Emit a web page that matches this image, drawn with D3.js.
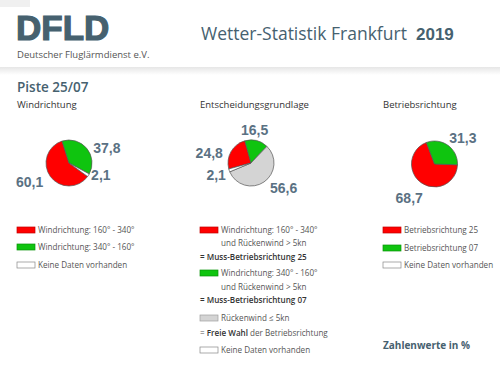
<!DOCTYPE html>
<html>
<head>
<meta charset="utf-8">
<script src="https://cdn.jsdelivr.net/npm/d3@7"></script>
<style>
  body { margin: 0; background: #fff; }
  svg { display: block; font-family: "Open Sans", sans-serif; }
</style>
</head>
<body>
<svg></svg>
<script>
// Размеры
const width = 500;
const height = 370;

// Данные (в процентах)
const windLabels = ["Windrichtung: 160° - 340°", "Windrichtung: 340° - 160°", "Keine Daten vorhanden"];
const windValues = [60.1, 37.8, 2.1];

const decisionLabels = ["Muss-Betriebsrichtung 25", "Muss-Betriebsrichtung 07", "Freie Wahl", "Keine Daten vorhanden"];
const decisionValues = [24.8, 16.5, 56.6, 2.1];

const runwayLabels = ["Betriebsrichtung 25", "Betriebsrichtung 07", "Keine Daten vorhanden"];
const runwayValues = [68.7, 31.3];

const titleText = "Wetter-Statistik Frankfurt";
const yearText = "2019";

// Цвета
const red = "#ff0000";
const green = "#0fc40f";
const grey = "#d4d4d4";
const white = "#ffffff";
const slate = "#46616f";
const textGrey = "#555";

const svg = d3.select("svg")
  .attr("width", width)
  .attr("height", height);

// Шапка с тенью
const defs = svg.append("defs");
const shadow = defs.append("linearGradient")
  .attr("id", "shadow")
  .attr("x1", 0).attr("y1", 0).attr("x2", 0).attr("y2", 1);
shadow.append("stop").attr("offset", "0%").attr("stop-color", "#e6e6e6");
shadow.append("stop").attr("offset", "100%").attr("stop-color", "#fff");

svg.append("rect")
  .attr("x", 0).attr("y", 67)
  .attr("width", width).attr("height", 8)
  .attr("fill", "url(#shadow)");

svg.append("rect")
  .attr("x", 0).attr("y", 0)
  .attr("width", 30).attr("height", 7)
  .attr("fill", "#f0f0f0");

// Логотип
svg.append("text")
  .attr("x", 16).attr("y", 40)
  .attr("font-family", "'Liberation Sans', Arial, sans-serif")
  .attr("font-weight", 900)
  .attr("font-size", 35)
  .attr("fill", slate)
  .attr("stroke", slate)
  .attr("stroke-width", 1.2)
  .text("DFLD");

svg.append("text")
  .attr("x", 17).attr("y", 58)
  .attr("font-size", 9.5)
  .attr("fill", textGrey)
  .text("Deutscher Fluglärmdienst e.V.");

// Заголовок
svg.append("text")
  .attr("x", 201).attr("y", 40)
  .attr("font-size", 17.5)
  .attr("fill", slate)
  .text(titleText);

svg.append("text")
  .attr("x", 416).attr("y", 40)
  .attr("font-family", "'Liberation Sans', Arial, sans-serif")
  .attr("font-weight", "bold")
  .attr("font-size", 17)
  .attr("fill", slate)
  .text(yearText);

svg.append("text")
  .attr("x", 17).attr("y", 92)
  .attr("font-size", 13.5)
  .attr("font-weight", 600)
  .attr("fill", slate)
  .text("Piste 25/07");

// Функция для круговой диаграммы
const radius = 23;
const labelRadius = 40;
const toRad = Math.PI / 180;

function drawPie(cx, cy, title, titleX, values, colors, startDeg, nudges) {
  svg.append("text")
    .attr("x", titleX).attr("y", 108)
    .attr("font-size", 9.5)
    .attr("fill", "#333")
    .text(title);

  const pie = d3.pie()
    .sort(null)
    .startAngle(startDeg * toRad)
    .endAngle(startDeg * toRad + 2 * Math.PI);

  const arc = d3.arc().innerRadius(0).outerRadius(radius);
  const labelArc = d3.arc().innerRadius(labelRadius).outerRadius(labelRadius);

  const g = svg.append("g").attr("transform", `translate(${cx},${cy})`);

  const arcs = pie(values);

  g.selectAll("path")
    .data(arcs)
    .join("path")
    .attr("d", arc)
    .attr("fill", (d, i) => colors[i])
    .attr("stroke", "#555")
    .attr("stroke-width", 0.7)
    .attr("stroke-linejoin", "round");

  g.selectAll("text")
    .data(arcs)
    .join("text")
    .attr("x", (d, i) => labelArc.centroid(d)[0] + nudges[i][0])
    .attr("y", (d, i) => labelArc.centroid(d)[1] + nudges[i][1])
    .attr("dy", "0.36em")
    .attr("text-anchor", "middle")
    .attr("font-family", "'Liberation Sans', Arial, sans-serif")
    .attr("font-weight", "bold")
    .attr("font-size", 14)
    .attr("fill", "#5a7183")
    .text(d => d3.format(".1f")(d.value).replace(".", ","));
}

drawPie(69, 163, "Windrichtung", 17, windValues, [red, green, white], 126,
  [[-7, -4], [7, 10], [-2, -9]]);
drawPie(251, 163, "Entscheidungsgrundlage", 200, decisionValues, [red, green, grey, white], 255,
  [[-7, 10], [-6, 6], [10, -8], [3, -1]]);
drawPie(434.5, 164, "Betriebsrichtung", 383, runwayValues, [red, green], 92,
  [[-2, 1], [5, 6]]);

// Легенды
function legend(x, rows) {
  const g = svg.append("g");
  rows.forEach(r => {
    if (r.swatch) {
      g.append("rect")
        .attr("x", x).attr("y", r.y - 3)
        .attr("width", 18).attr("height", 6)
        .attr("fill", r.swatch)
        .attr("stroke", r.swatch === white ? "#888" : d3.color(r.swatch).darker(0.8))
        .attr("stroke-width", 0.7);
    }
    const t = g.append("text")
      .attr("x", r.swatch ? x + 21 : x + (r.indent || 0))
      .attr("y", r.y)
      .attr("dy", "0.35em")
      .attr("font-size", 8.1)
      .attr("fill", textGrey);
    r.parts.forEach(p => {
      t.append("tspan")
        .attr("font-weight", p.bold ? 600 : "normal")
        .attr("fill", p.bold ? "#333" : textGrey)
        .text(p.text);
    });
  });
}

legend(17, [
  { y: 230, swatch: red, parts: [{ text: windLabels[0] }] },
  { y: 247, swatch: green, parts: [{ text: windLabels[1] }] },
  { y: 265, swatch: white, parts: [{ text: windLabels[2] }] }
]);

legend(200, [
  { y: 230, swatch: red, parts: [{ text: windLabels[0] }] },
  { y: 243, indent: 21, parts: [{ text: "und Rückenwind > 5kn" }] },
  { y: 257, parts: [{ text: "= " + decisionLabels[0], bold: true }] },
  { y: 273, swatch: green, parts: [{ text: windLabels[1] }] },
  { y: 287, indent: 21, parts: [{ text: "und Rückenwind > 5kn" }] },
  { y: 300, parts: [{ text: "= " + decisionLabels[1], bold: true }] },
  { y: 318, swatch: grey, parts: [{ text: "Rückenwind ≤ 5kn" }] },
  { y: 333, parts: [{ text: "= " }, { text: decisionLabels[2], bold: true }, { text: " der Betriebsrichtung" }] },
  { y: 350, swatch: white, parts: [{ text: decisionLabels[3] }] }
]);

legend(383, [
  { y: 230, swatch: red, parts: [{ text: runwayLabels[0] }] },
  { y: 248, swatch: green, parts: [{ text: runwayLabels[1] }] },
  { y: 265, swatch: white, parts: [{ text: runwayLabels[2] }] }
]);

// Подпись
svg.append("text")
  .attr("x", 383).attr("y", 349)
  .attr("font-size", 10)
  .attr("font-weight", "bold")
  .attr("fill", slate)
  .text("Zahlenwerte in %");
</script>
</body>
</html>
